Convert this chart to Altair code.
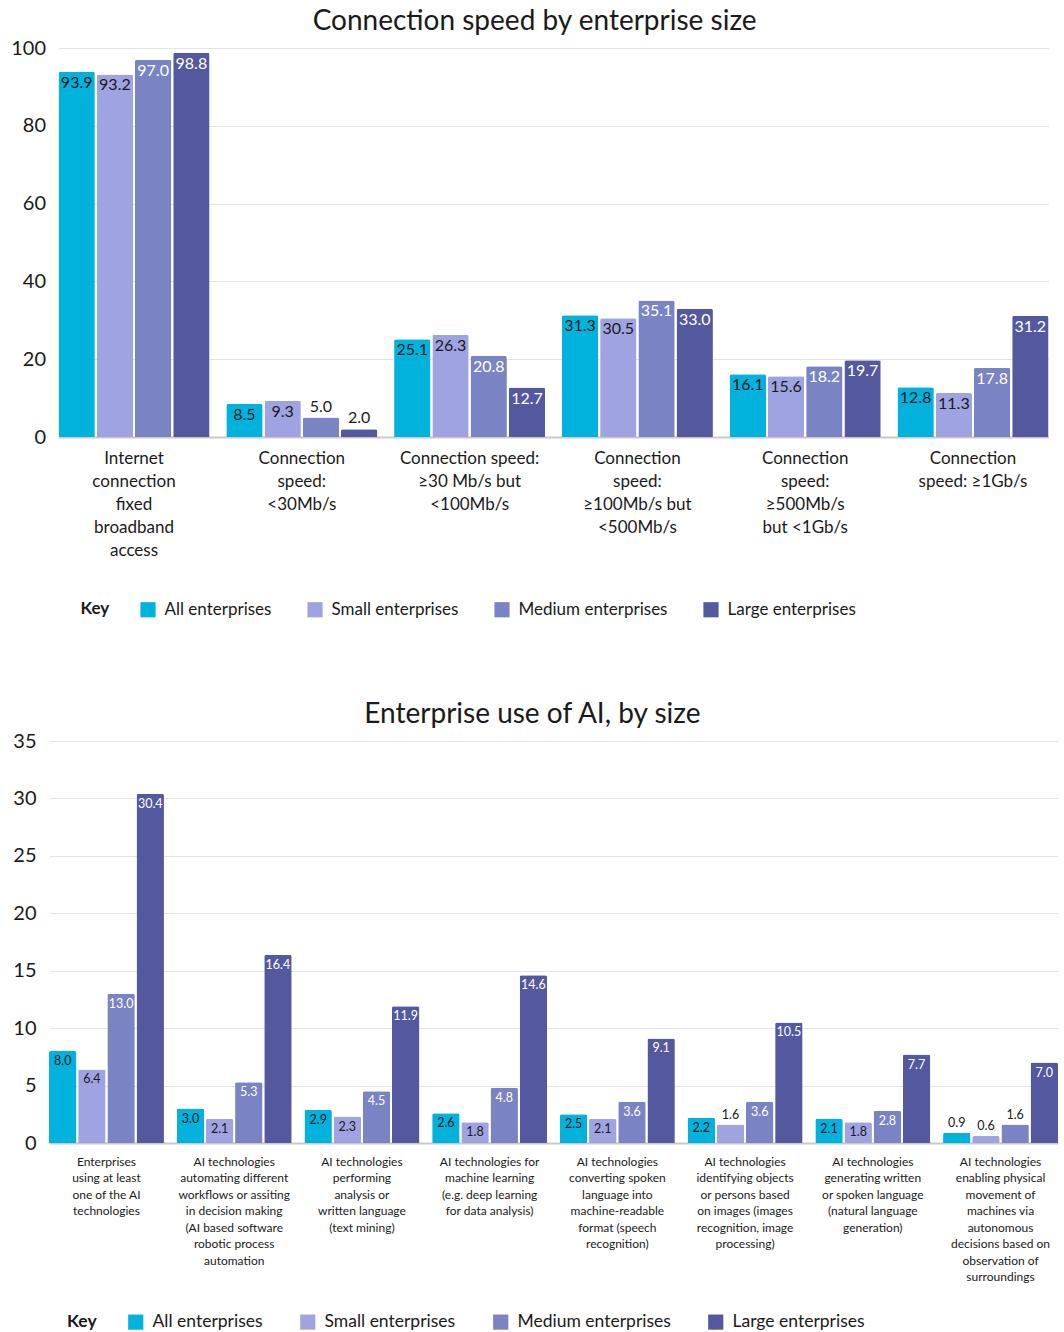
import altair as alt
import pandas as pd

# Enterprise size groups and their colours
series = ["All enterprises", "Small enterprises", "Medium enterprises", "Large enterprises"]
series_colors = ["#00B2DC", "#9FA3E1", "#7A83C4", "#54589F"]
light_text_series = ["Medium enterprises", "Large enterprises"]

# Chart 1: connection speed by enterprise size (% of enterprises)
speed_categories = [
    "Internet|connection|fixed|broadband|access",
    "Connection|speed:|<30Mb/s",
    "Connection speed:|≥30 Mb/s but|<100Mb/s",
    "Connection|speed:|≥100Mb/s but|<500Mb/s",
    "Connection|speed:|≥500Mb/s|but <1Gb/s",
    "Connection|speed: ≥1Gb/s",
]
speed_all = [93.9, 8.5, 25.1, 31.3, 16.1, 12.8]
speed_small = [93.2, 9.3, 26.3, 30.5, 15.6, 11.3]
speed_medium = [97.0, 5.0, 20.8, 35.1, 18.2, 17.8]
speed_large = [98.8, 2.0, 12.7, 33.0, 19.7, 31.2]

# Chart 2: enterprise use of AI by size (% of enterprises)
ai_categories = [
    "Enterprises|using at least|one of the AI|technologies",
    "AI technologies|automating different|workflows or assiting|in decision making|(AI based software|robotic process|automation",
    "AI technologies|performing|analysis or|written language|(text mining)",
    "AI technologies for|machine learning|(e.g. deep learning|for data analysis)",
    "AI technologies|converting spoken|language into|machine-readable|format (speech|recognition)",
    "AI technologies|identifying objects|or persons based|on images (images|recognition, image|processing)",
    "AI technologies|generating written|or spoken language|(natural language|generation)",
    "AI technologies|enabling physical|movement of|machines via|autonomous|decisions based on|observation of|surroundings",
]
ai_all = [8.0, 3.0, 2.9, 2.6, 2.5, 2.2, 2.1, 0.9]
ai_small = [6.4, 2.1, 2.3, 1.8, 2.1, 1.6, 1.8, 0.6]
ai_medium = [13.0, 5.3, 4.5, 4.8, 3.6, 3.6, 2.8, 1.6]
ai_large = [30.4, 16.4, 11.9, 14.6, 9.1, 10.5, 7.7, 7.0]

FONT = "Lato"
DARK = "#1a1a1a"


def long_frame(categories, columns):
    rows = []
    for name, values in zip(series, columns):
        for cat, val in zip(categories, values):
            rows.append({"category": cat, "series": name, "value": val})
    return pd.DataFrame(rows)


def grouped_bars(df, categories, title, title_dx, ymax, yvalues, width, height,
                 inner_pad, label_size, label_gap, inside_min,
                 x_label_size, x_line_height, legend_xy, legend_size, legend_gap):
    base = alt.Chart(df).encode(
        x=alt.X(
            "category:N", sort=categories, title=None,
            scale=alt.Scale(paddingInner=0.1, paddingOuter=0),
            axis=alt.Axis(
                labelAngle=0, labelExpr="split(datum.label, '|')",
                labelFontSize=x_label_size, labelLineHeight=x_line_height,
                labelBaseline="top", labelPadding=13, labelLimit=400,
                labelOverlap=False, labelColor=DARK, ticks=False,
                domainColor="#c9c9c9", domainWidth=2, labelFont=FONT,
            ),
        ),
        xOffset=alt.XOffset("series:N", sort=series,
                            scale=alt.Scale(paddingInner=inner_pad, paddingOuter=0)),
        y=alt.Y(
            "value:Q", title=None,
            scale=alt.Scale(domain=[0, ymax], nice=False),
            axis=alt.Axis(
                values=yvalues, domain=False, ticks=False, labelFontSize=20,
                labelPadding=13, labelColor=DARK, gridColor="#e4e4e4",
                labelFont=FONT,
            ),
        ),
    )

    bars = base.mark_bar(cornerRadiusTopLeft=2, cornerRadiusTopRight=2).encode(
        color=alt.Color(
            "series:N", sort=series,
            scale=alt.Scale(domain=series, range=series_colors),
            legend=alt.Legend(
                title="Key", titleOrient="left", orient="none",
                direction="horizontal", legendX=legend_xy[0], legendY=legend_xy[1],
                symbolType="square", symbolSize=230, symbolStrokeWidth=0,
                symbolOpacity=1, labelFontSize=legend_size, labelFont=FONT,
                labelColor=DARK, titleFontSize=legend_size, titleFont=FONT,
                titleFontWeight="bold", titleColor=DARK, titlePadding=30,
                labelOffset=8, columnPadding=legend_gap, labelLimit=300,
            ),
        )
    )

    is_light = "indexof(" + str(light_text_series) + ", datum.series) >= 0"
    text = alt.Text("value:Q", format=".1f")

    inside_dark = base.transform_filter(
        f"datum.value >= {inside_min} && !({is_light})"
    ).mark_text(baseline="middle", dy=label_gap, fontSize=label_size,
                font=FONT, color=DARK).encode(text=text)
    inside_light = base.transform_filter(
        f"datum.value >= {inside_min} && ({is_light})"
    ).mark_text(baseline="middle", dy=label_gap, fontSize=label_size,
                font=FONT, color="white").encode(text=text)
    outside = base.transform_filter(
        f"datum.value < {inside_min}"
    ).mark_text(baseline="middle", dy=-label_gap, fontSize=label_size,
                font=FONT, color=DARK).encode(text=text)

    return alt.layer(bars, inside_dark, inside_light, outside).properties(
        width=width, height=height,
        title=alt.TitleParams(
            title, anchor="middle", frame="bounds", fontSize=28,
            fontWeight="normal", font=FONT, color=DARK, offset=2, dx=title_dx,
        ),
    )


speed_df = long_frame(speed_categories, [speed_all, speed_small, speed_medium, speed_large])
ai_df = long_frame(ai_categories, [ai_all, ai_small, ai_medium, ai_large])

speed_chart = grouped_bars(
    speed_df, speed_categories, "Connection speed by enterprise size", 5,
    100, [0, 20, 40, 60, 80, 100], 990, 389,
    inner_pad=0.05, label_size=16, label_gap=11, inside_min=6,
    x_label_size=17, x_line_height=23, legend_xy=(22, 553), legend_size=17,
    legend_gap=35,
)

ai_chart = grouped_bars(
    ai_df, ai_categories, "Enterprise use of AI, by size", -3,
    35, [0, 5, 10, 15, 20, 25, 30, 35], 1009, 402,
    inner_pad=0.06, label_size=12.5, label_gap=10, inside_min=1.7,
    x_label_size=12, x_line_height=16.5, legend_xy=(18, 572), legend_size=17.5,
    legend_gap=36,
)

chart = alt.concat(speed_chart, ai_chart, columns=1).properties(
    center=True, spacing=83,
    padding={"left": 10, "top": 8, "right": 0, "bottom": 0},
    background="white",
).resolve_scale(
    color="independent", xOffset="independent"
).configure_view(stroke=None)

chart.save("out.html", embed_options={"renderer": "svg", "actions": False})
